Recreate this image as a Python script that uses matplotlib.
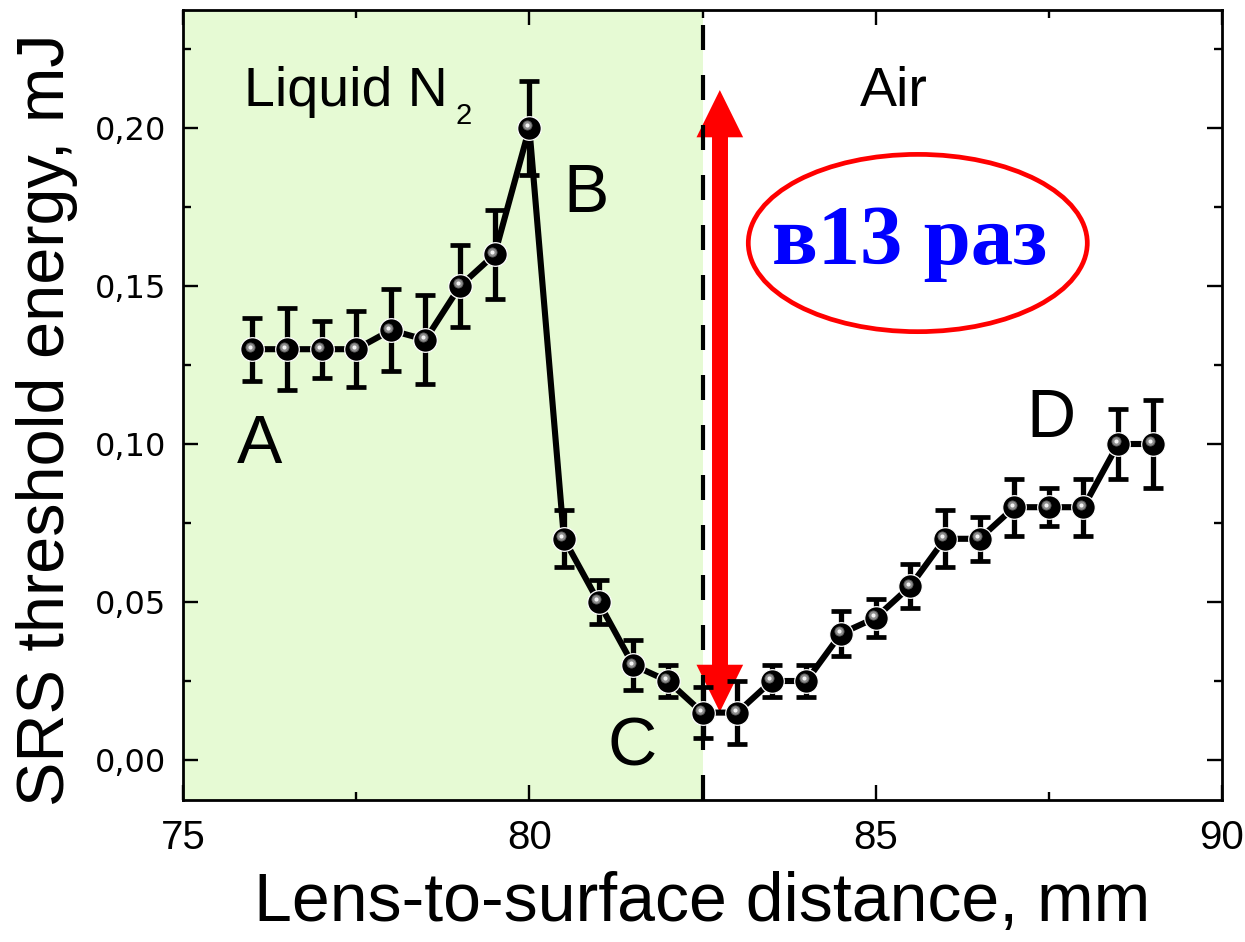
import matplotlib
matplotlib.use("Agg")
import matplotlib.pyplot as plt
from matplotlib.patches import Ellipse
from matplotlib.transforms import ScaledTranslation
from matplotlib.ticker import MultipleLocator, FixedLocator, FixedFormatter

# Lens-to-surface distance (mm) and SRS threshold energy (mJ) with error bars
distance = [76.0, 76.5, 77.0, 77.5, 78.0, 78.5, 79.0, 79.5, 80.0, 80.5, 81.0,
            81.5, 82.0, 82.5, 83.0, 83.5, 84.0, 84.5, 85.0, 85.5, 86.0, 86.5,
            87.0, 87.5, 88.0, 88.5, 89.0]
energy = [0.130, 0.130, 0.130, 0.130, 0.136, 0.133, 0.150, 0.160, 0.200, 0.070,
          0.050, 0.030, 0.025, 0.015, 0.015, 0.025, 0.025, 0.040, 0.045, 0.055,
          0.070, 0.070, 0.080, 0.080, 0.080, 0.100, 0.100]
energy_err = [0.010, 0.013, 0.009, 0.012, 0.013, 0.014, 0.013, 0.014, 0.015,
              0.009, 0.007, 0.008, 0.005, 0.008, 0.010, 0.005, 0.005, 0.007,
              0.006, 0.007, 0.009, 0.007, 0.009, 0.006, 0.009, 0.011, 0.014]

ytick_values = [0.00, 0.05, 0.10, 0.15, 0.20]
ytick_labels = ["0,00", "0,05", "0,10", "0,15", "0,20"]
xtick_values = [75, 80, 85, 90]
xtick_labels = ["75", "80", "85", "90"]

interface_x = 82.5          # liquid nitrogen / air boundary
arrow_x = 82.75
arrow_low, arrow_high = 0.0152, 0.2120

SANS = ["Liberation Sans", "DejaVu Sans"]

fig = plt.figure(figsize=(12.45, 9.42), dpi=100)
ax = fig.add_axes([0.14699, 0.15074, 0.83454, 0.83864])
ax.set_xlim(75, 90)
ax.set_ylim(-0.01266, 0.23734)

# shaded liquid-nitrogen region
ax.axvspan(75, interface_x, color="#E6FAD4", zorder=0, lw=0)

# boundary line
ax.axvline(interface_x, color="black", lw=3.0, ls=(0, (6.0, 6.0)), zorder=2)

# double-headed red arrow: shaft plus two filled heads
head_len = 0.0149
ax.plot([arrow_x, arrow_x], [arrow_low + head_len, arrow_high - head_len],
        color="red", lw=11.5, solid_capstyle="butt", zorder=1)
for tip, tail in ((arrow_high, arrow_high - 0.03), (arrow_low, arrow_low + 0.03)):
    ax.annotate("", xy=(arrow_x, tip), xytext=(arrow_x, tail),
                arrowprops=dict(arrowstyle="-|>,head_length=34,head_width=16.8",
                                mutation_scale=1, color="red", lw=0,
                                shrinkA=0, shrinkB=0),
                zorder=1)

# data: error bars, connecting line, spherical markers
ax.errorbar(distance, energy, yerr=energy_err, fmt="none", ecolor="black",
            elinewidth=3.8, capsize=7.0, capthick=3.4, zorder=3)
ax.plot(distance, energy, color="black", lw=4.4, zorder=4)
ax.plot(distance, energy, ls="none", marker="o", ms=17, mfc="black",
        mec="white", mew=0.9, zorder=5)
shine = ax.transData + ScaledTranslation(-2.5 / 100, 2.5 / 100, fig.dpi_scale_trans)
ax.plot(distance, energy, ls="none", marker="o", ms=6.6, mfc="#8c8c8c",
        mec="#5a5a5a", mew=0.6, transform=shine, zorder=6)
ax.plot(distance, energy, ls="none", marker="o", ms=3.0, mfc="#f4f4f4",
        mec="none", transform=shine, zorder=7)

# ratio annotation
ax.add_patch(Ellipse((85.608, 0.1636), 4.894, 0.0561, fill=False,
                     edgecolor="red", lw=3.4, zorder=8))
ax.text(83.51, 0.157, "в13 раз", color="#0000FF", fontsize=61,
        fontweight="bold", family=["Liberation Serif", "DejaVu Serif"],
        ha="left", va="baseline", zorder=9)

# region labels
ax.text(75.88, 0.2071, "Liquid N", fontsize=40, family=SANS,
        ha="left", va="baseline", zorder=9)
ax.text(78.93, 0.2013, "2", fontsize=21, family=SANS,
        ha="left", va="baseline", zorder=9)
ax.text(84.77, 0.2071, "Air", fontsize=40, family=SANS,
        ha="left", va="baseline", zorder=9)

# point labels
for s, px, py in (("A", 75.775, 0.0939), ("B", 80.486, 0.1735),
                  ("C", 81.13, -0.0016), ("D", 87.18, 0.1023)):
    ax.text(px, py, s, fontsize=49, family=SANS, ha="left", va="baseline",
            zorder=9)

# axes styling
for sp in ax.spines.values():
    sp.set_linewidth(2.0)
    sp.set_zorder(10)

ax.yaxis.set_major_locator(FixedLocator(ytick_values))
ax.yaxis.set_major_formatter(FixedFormatter(ytick_labels))
ax.yaxis.set_minor_locator(MultipleLocator(0.025))
ax.xaxis.set_major_locator(FixedLocator(xtick_values))
ax.xaxis.set_major_formatter(FixedFormatter(xtick_labels))
ax.xaxis.set_minor_locator(MultipleLocator(2.5))

ax.tick_params(which="both", direction="in", top=True, right=True, width=1.7)
ax.tick_params(which="major", length=10.8)
ax.tick_params(which="minor", length=5.5)
ax.tick_params(axis="y", which="major", pad=12)
ax.tick_params(axis="x", which="major", pad=14)
for lab in ax.get_yticklabels():
    lab.set_family("DejaVu Sans")
    lab.set_fontsize(23)
for lab in ax.get_xticklabels():
    lab.set_family(SANS)
    lab.set_fontsize(29)

ax.set_xlabel("Lens-to-surface distance, mm", fontsize=49, family=SANS,
              labelpad=10)
ax.set_ylabel("SRS threshold energy, mJ", fontsize=48, family=SANS,
              labelpad=12)
ax.yaxis.label.set_y(0.482)

fig.savefig("out.png", dpi=100)
